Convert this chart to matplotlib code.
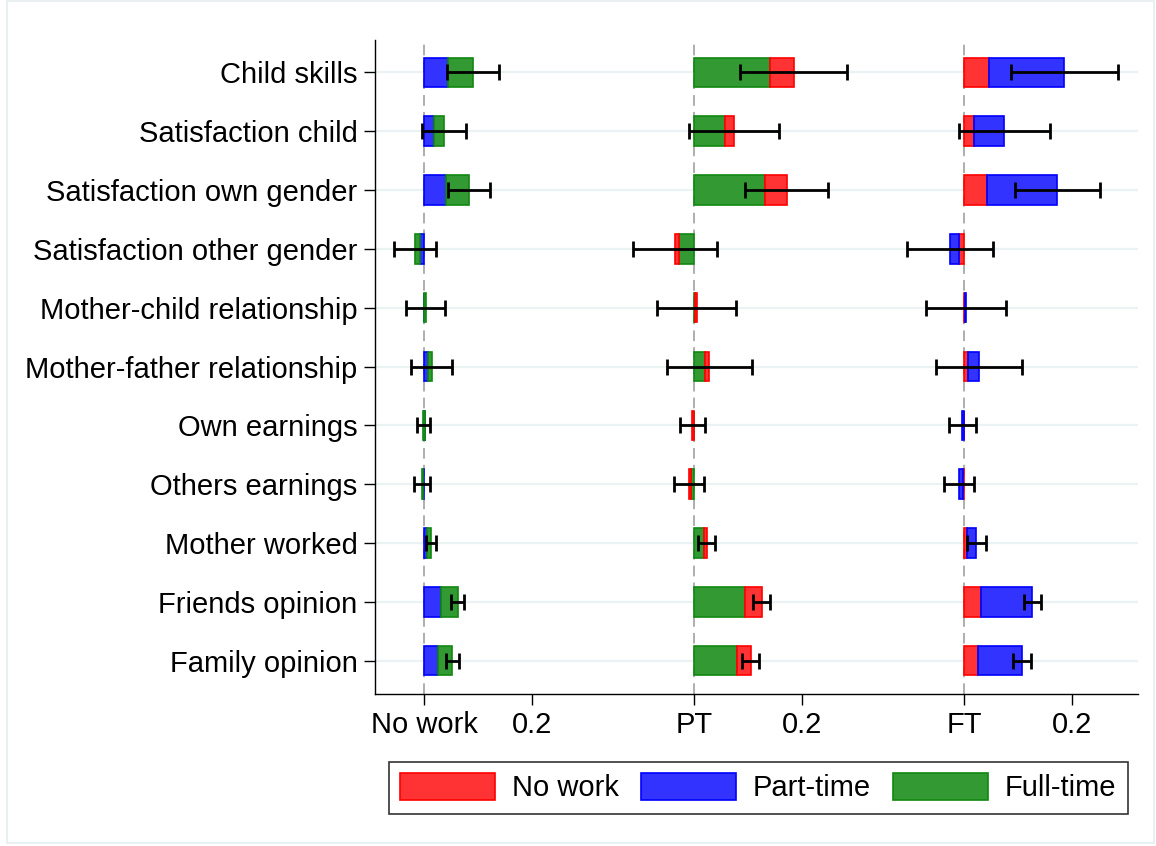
import numpy as np
import matplotlib.pyplot as plt
from matplotlib.patches import Patch, Rectangle

plt.rcParams["font.family"] = ["Liberation Sans", "DejaVu Sans"]

# ---- data (top row first) ----
outcomes = [
    "Child skills",
    "Satisfaction child",
    "Satisfaction own gender",
    "Satisfaction other gender",
    "Mother-child relationship",
    "Mother-father relationship",
    "Own earnings",
    "Others earnings",
    "Mother worked",
    "Friends opinion",
    "Family opinion",
]

# origin "No work": part-time piece, then full-time piece
nw_pt = [0.044, 0.0185, 0.041, -0.008, 0.0, 0.0074, 0.002, -0.001, 0.0062, 0.0315, 0.026]
nw_ft = [0.047, 0.019, 0.043, -0.0087, 0.003, 0.0068, -0.003, -0.0025, 0.0068, 0.031, 0.0265]
nw_ci = [0.048, 0.041, 0.039, 0.0386, 0.0364, 0.0386, 0.0123, 0.0145, 0.0093, 0.012, 0.0115]

# origin "PT": full-time piece, then no-work piece
pt_ft = [0.1413, 0.0567, 0.1315, -0.0272, 0.001, 0.021, 0.0, -0.0055, 0.0178, 0.095, 0.0802]
pt_nw = [0.0432, 0.0173, 0.040, -0.008, 0.004, 0.0073, -0.003, -0.0038, 0.0056, 0.0303, 0.0253]
pt_ci = [0.0985, 0.0836, 0.0775, 0.078, 0.0735, 0.0787, 0.0238, 0.027, 0.0164, 0.016, 0.0157]

# origin "FT": no-work piece, then part-time piece
ft_nw = [0.0463, 0.0191, 0.0432, -0.0098, 0.001, 0.0068, 0.0, -0.0024, 0.005, 0.0315, 0.0265]
ft_pt = [0.1395, 0.0556, 0.1296, -0.0161, 0.003, 0.0216, -0.003, -0.0068, 0.0178, 0.095, 0.0803]
ft_ci = [0.099, 0.0843, 0.0784, 0.079, 0.0744, 0.0796, 0.0244, 0.0275, 0.017, 0.0157, 0.017]

group_offsets = [0.0, 0.5, 1.0]
tick_pos = [0.0, 0.2, 0.5, 0.7, 1.0, 1.2]
tick_labels = ["No work", "0.2", "PT", "0.2", "FT", "0.2"]
legend_labels = ["No work", "Part-time", "Full-time"]
# ------------------------------------------------------

FILL = {"nw": "#ff3333", "pt": "#3333ff", "ft": "#339933"}
EDGE = {"nw": "#ff0000", "pt": "#0000ff", "ft": "#118811"}
FS = 21


def stacked(ax, y, offset, first, second, ci, k1, k2):
    first = np.asarray(first)
    second = np.asarray(second)
    ax.barh(y, first, left=offset, height=0.5, color=FILL[k1],
            edgecolor=EDGE[k1], linewidth=1.2, zorder=3)
    ax.barh(y, second, left=offset + first, height=0.5, color=FILL[k2],
            edgecolor=EDGE[k2], linewidth=1.2, zorder=3)
    ax.errorbar(offset + first + second, y, xerr=ci, fmt="none", ecolor="black",
                elinewidth=2.0, capsize=6, capthick=2.0, zorder=4)


def main():
    fig = plt.figure(figsize=(11.56, 8.46), dpi=100)
    ax = fig.add_axes([0.3244, 0.1797, 0.6598, 0.7730])

    n = len(outcomes)
    y = np.arange(n, 0, -1)

    xlo, xhi = -0.0907, 1.3217
    ax.hlines(y, xlo, xhi, color="#eaf2f3", linewidth=1.6, zorder=0)
    for off in group_offsets:
        ax.axvline(off, color="#999999", linewidth=1.1, dashes=(7, 4), zorder=1)

    stacked(ax, y, group_offsets[0], nw_pt, nw_ft, nw_ci, "pt", "ft")
    stacked(ax, y, group_offsets[1], pt_ft, pt_nw, pt_ci, "ft", "nw")
    stacked(ax, y, group_offsets[2], ft_nw, ft_pt, ft_ci, "nw", "pt")

    ax.set_xlim(xlo, xhi)
    ax.set_ylim(0.434, 11.55)
    ax.set_yticks(y)
    ax.set_yticklabels(outcomes, fontsize=FS)
    ax.set_xticks(tick_pos)
    ax.set_xticklabels(tick_labels, fontsize=FS)
    ax.tick_params(axis="y", length=8, width=1, pad=4.5)
    ax.tick_params(axis="x", length=8, width=1, pad=4)
    for side in ["top", "right"]:
        ax.spines[side].set_visible(False)
    for side in ["left", "bottom"]:
        ax.spines[side].set_linewidth(1.0)

    handles = [Patch(facecolor=FILL[k], edgecolor=EDGE[k], linewidth=1.2)
               for k in ["nw", "pt", "ft"]]
    leg = ax.legend(handles, legend_labels, loc="center", ncol=3,
                    bbox_to_anchor=(0.656, 0.069), bbox_transform=fig.transFigure,
                    fontsize=FS, frameon=True, fancybox=False, edgecolor="black",
                    handlelength=3.25, handleheight=1.07, handletextpad=0.59,
                    columnspacing=0.75, borderpad=0.38, borderaxespad=0)
    leg.get_frame().set_linewidth(1.2)

    # faint outer graph-region border
    fig.patches.append(Rectangle((7 / 1156, 3 / 846), 1147 / 1156, 842 / 846,
                                 transform=fig.transFigure, fill=False,
                                 edgecolor="#e6eef0", linewidth=1.2))

    fig.savefig("out.png", dpi=100)


if __name__ == "__main__":
    main()
